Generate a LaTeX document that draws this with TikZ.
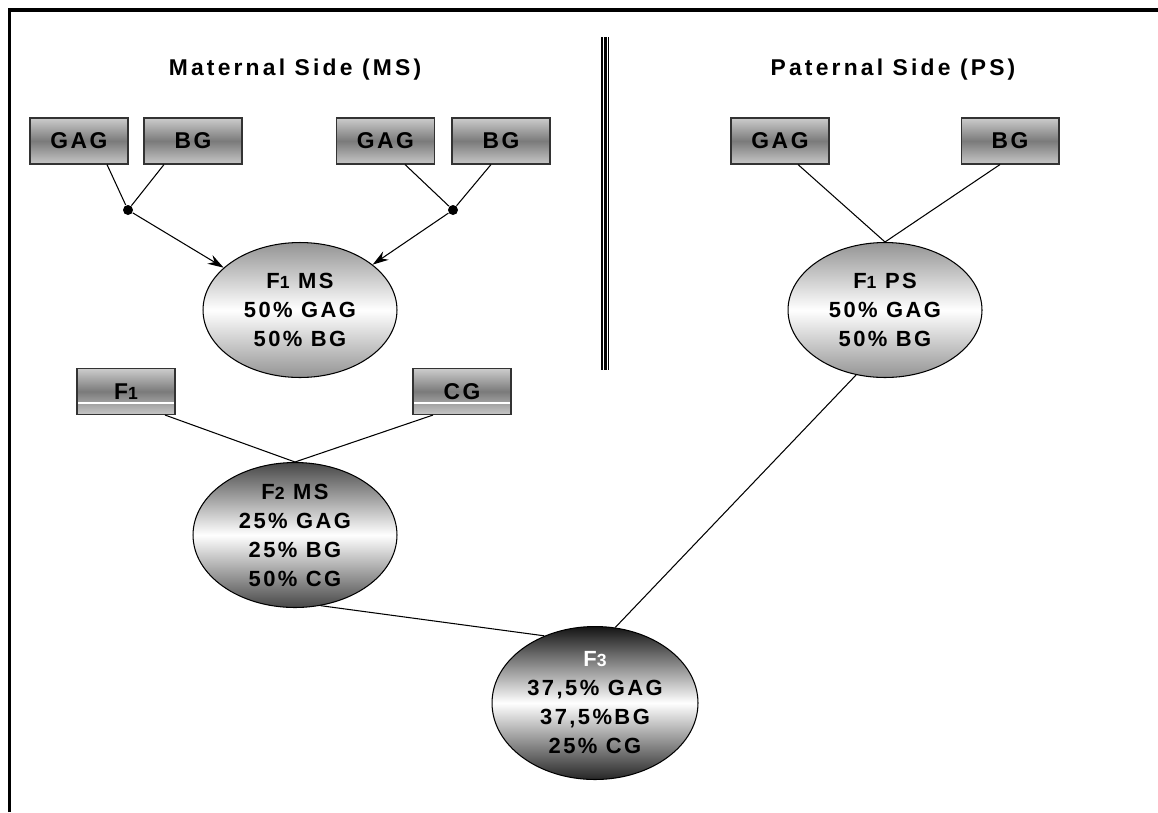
\documentclass[tikz,border=0pt]{standalone}
\usepackage{fontspec}
\setmainfont{Liberation Sans}
\newfontfamily\diagfont{Liberation Sans}[LetterSpace=11]
\newfontfamily\titlefont{Liberation Sans}[LetterSpace=14]
\usepackage{tikz}
\usetikzlibrary{positioning,shapes,arrows.meta,calc}

\newcommand{\gen}[1]{{\fontsize{10}{10}\selectfont #1}}

\tikzset{
  gbox/.style={draw=black!80, top color=black!20, bottom color=black!22, middle color=black!52,
    minimum width=1.96cm, minimum height=0.92cm, inner sep=0pt,
    font=\diagfont\bfseries\fontsize{13}{14}\selectfont},
  gboxline/.style={gbox, path picture={\draw[white, line width=0.8pt]
    ([yshift=-0.23cm]path picture bounding box.west) -- ([yshift=-0.23cm]path picture bounding box.east);}},
  cross/.style={draw=black, ellipse, inner sep=0pt, align=center,
    font=\diagfont\bfseries\fontsize{12.5}{16.5}\selectfont},
  crossdot/.style={circle, fill=black, minimum size=0.2cm, inner sep=0pt},
  sidetitle/.style={font=\titlefont\bfseries\fontsize{13}{15}\selectfont}
}

\begin{document}
\begin{tikzpicture}[x=0.02cm, y=-0.02cm, >={Stealth[length=3.2mm, width=2mm]}, line width=0.6pt]
    \useasboundingbox (0,0) rectangle (1158,812);
    % outer frame (cut at right and bottom)
    \draw[line width=1.8pt] (9.5,812) -- (9.5,10) -- (1158,10);

    % divider between the two sides
    \draw[line width=1.1pt] (602,37) -- (602,370);
    \draw[line width=1.9pt] (605.5,37) -- (605.5,370);
    \draw[line width=0.7pt] (608.6,37) -- (608.6,370);

    % titles
    \node[sidetitle] (mstitle) at (295,70) {Maternal Side (MS)};
    \node[sidetitle] (pstitle) at (893,70) {Paternal Side (PS)};

    % maternal parents
    \node[gbox] (gagA) at (79,141) {GAG};
    \node[gbox] (bgA) at (193,141) {BG};
    \node[gbox] (gagB) at (385.5,141) {GAG};
    \node[gbox] (bgB) at (501,141) {BG};
    \node[crossdot] (dotA) at (128,210) {};
    \node[crossdot] (dotB) at (453,210) {};

    % F1 maternal side
    \node[cross, minimum width=3.88cm, minimum height=2.7cm,
      top color=black!42, bottom color=black!42, middle color=white] (fms) at (300,310)
      {F\gen{1} MS\\50\% GAG\\50\% BG};

    \draw ([xshift=0.56cm]gagA.south) -- (dotA);
    \draw ([xshift=-0.58cm]bgA.south) -- (dotA);
    \draw ([xshift=0.39cm]gagB.south) -- (dotB);
    \draw ([xshift=-0.2cm]bgB.south) -- (dotB);
    \draw[->] (dotA) -- (fms.151);
    \draw[->] (dotB) -- (fms.32);

    % paternal side
    \node[gbox] (gagP) at (780,141) {GAG};
    \node[gbox] (bgP) at (1010,141) {BG};
    \node[cross, minimum width=3.88cm, minimum height=2.7cm,
      top color=black!42, bottom color=black!42, middle color=white] (fps) at (885,310)
      {F\gen{1} PS\\50\% GAG\\50\% BG};
    \draw ([xshift=0.36cm]gagP.south) -- (fps.north);
    \draw ([xshift=-0.2cm]bgP.south) -- (fps.north);

    % F2 maternal side
    \node[gboxline] (fone) at (126,391.5) {F\gen{1}};
    \node[gboxline] (cgA) at (462,391.5) {CG};
    \node[cross, minimum width=4.08cm, minimum height=2.7cm,
      top color=black!72, bottom color=black!72, middle color=white] (ftwo) at (295,535)
      {F\gen{2} MS\\25\% GAG\\25\% BG\\50\% CG};
    \draw ([xshift=0.78cm]fone.south) -- (ftwo.north);
    \draw ([xshift=-0.58cm]cgA.south) -- (ftwo.north);

    % F3
    \node[cross, minimum width=4.12cm, minimum height=3.06cm,
      top color=black!92, bottom color=black!85, middle color=white] (fthree) at (595,703)
      {\textcolor{white}{F\gen{3}}\\37,5\% GAG\\37,5\%BG\\25\% CG};
    \draw (ftwo.-70) -- (fthree.127);
    \draw (fps.246) -- (fthree.75);
\end{tikzpicture}
\end{document}
